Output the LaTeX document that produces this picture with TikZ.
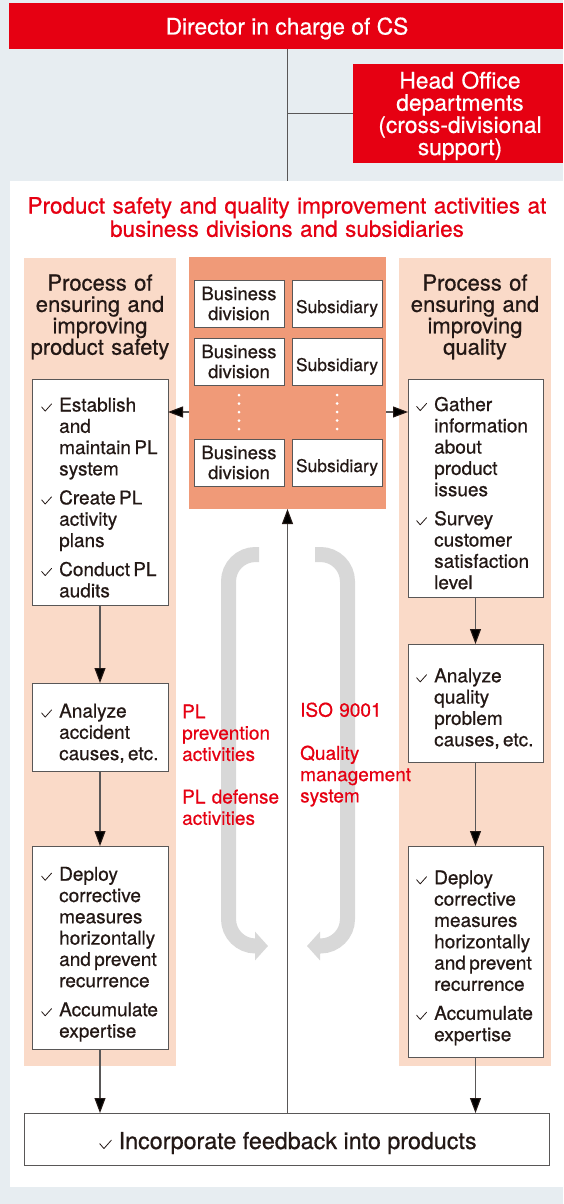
\documentclass[tikz,border=0pt]{standalone}
\usepackage{fontspec}
\setmainfont[FakeBold=0.6]{TeX Gyre Heros}
\usetikzlibrary{arrows.meta}
\definecolor{bgc}{RGB}{231,237,241}
\definecolor{redc}{RGB}{230,0,18}
\definecolor{pinkc}{RGB}{250,218,200}
\definecolor{orc}{RGB}{240,154,120}
\definecolor{grayarr}{RGB}{216,216,216}
\definecolor{txt}{RGB}{35,24,21}
\definecolor{lnc}{RGB}{89,87,87}
\newcommand{\ck}[1][1]{\tikz[baseline=0pt,scale=#1]\draw[line width=0.8pt,txt,line cap=round,line join=round] (0pt,4.6pt)--(3.6pt,0.4pt)--(10pt,7.6pt);}
\newcommand{\itm}[1]{\noindent\hangindent=27pt\hangafter=1\makebox[27pt][l]{\hspace{9pt}\ck}#1\par}
\newcommand{\bodyf}{\fontsize{19}{21.3}\selectfont\setlength{\parskip}{7.7pt}}
\tikzset{
  rect/.style={anchor=north west, inner sep=0pt, outer sep=0pt},
  redbar/.style={rect, fill=redc},
  panelbox/.style={rect, fill=pinkc},
  wbox/.style={rect, draw=lnc, line width=0.9pt, fill=white},
  unit/.style={rect, draw=lnc, line width=0.9pt, fill=white, minimum width=90pt, minimum height=47pt, text=txt},
  itemtext/.style={anchor=base west, inner sep=0pt, text width=#1, align=left, text=txt},
  ln/.style={draw=lnc, line width=1.1pt},
  arr/.style={ln, -{Triangle[length=15pt,width=11pt,color=txt]}},
  loop/.style={draw=grayarr, line width=15pt, rounded corners=27pt, -{Triangle[length=13pt,width=28pt]}},
  redlbl/.style={anchor=base west, inner sep=0pt, text width=#1, align=left, text=redc, font=\fontsize{19}{21.3}\selectfont},
}
\begin{document}
\begin{tikzpicture}[x=1pt,y=-1pt]
\useasboundingbox (0,0) rectangle (563,1204);
\fill[bgc] (0,0) rectangle (563,1204);

% top
\node[redbar, minimum width=554pt, minimum height=46pt] (dir) at (9,3) {};
\node[anchor=base, inner sep=0pt, text=white, font=\fontsize{22.8}{22.4}\selectfont] (dirt) at (287,34.5) {Director in charge of CS};
\node[redbar, minimum width=210pt, minimum height=99pt] (hq) at (353,64) {};
\node[anchor=base, inner sep=0pt, text=white, text width=205pt, align=center, font=\fontsize{22.8}{22.2}\selectfont] (hqt) at (460,88.5) {Head Office\\departments\\(cross-divisional\\support)};

% panel
\node[rect, fill=white, minimum width=553pt, minimum height=1006pt] (panel) at (10,181) {};
\node[anchor=base, inner sep=0pt, text=redc, text width=545pt, align=center, font=\fontsize{22.5}{23.3}\selectfont] (ttl) at (287,213.5) {Product safety and quality improvement activities at\\business divisions and subsidiaries};

\node[panelbox, minimum width=152pt, minimum height=808pt] (lp) at (24,258) {};
\node[panelbox, minimum width=152pt, minimum height=808pt] (rp) at (399,258) {};
\node[rect, fill=orc, minimum width=197pt, minimum height=252pt] (blk) at (189,257) {};

\node[anchor=base, inner sep=0pt, text=txt, text width=152pt, align=center, font=\fontsize{22}{21.4}\selectfont] (lh) at (100,290.5) {Process of\\ensuring and\\improving\\product safety};
\node[anchor=base, inner sep=0pt, text=txt, text width=152pt, align=center, font=\fontsize{22}{21.4}\selectfont] (rh) at (475,290.5) {Process of\\ensuring and\\improving\\quality};

% business divisions and subsidiaries
\node[unit, text width=90pt, align=center, font=\fontsize{18.5}{20}\selectfont] (bd1) at (194,280) {Business\\division};
\node[unit, text width=90pt, align=center, font=\fontsize{18.5}{20}\selectfont] (bd2) at (194,338) {Business\\division};
\node[unit, text width=90pt, align=center, font=\fontsize{18.5}{20}\selectfont] (bd3) at (194,439) {Business\\division};
\node[unit, text height=19pt, text depth=0pt, font=\fontsize{17.5}{20}\selectfont] (sb1) at (292,280) {Subsidiary};
\node[unit, text height=19pt, text depth=0pt, font=\fontsize{17.5}{20}\selectfont] (sb2) at (292,338) {Subsidiary};
\node[unit, text height=19pt, text depth=0pt, font=\fontsize{17.5}{20}\selectfont] (sb3) at (292,439) {Subsidiary};
\draw[white, line width=3pt, line cap=round, dash pattern=on 0pt off 8.5pt] (bd2.south) ++(0,10) -- ++(0,35);
\draw[white, line width=3pt, line cap=round, dash pattern=on 0pt off 8.5pt] (sb2.south) ++(0,10) -- ++(0,35);

% left column
\node[wbox, minimum width=136pt, minimum height=226pt] (b1) at (32,379) {};
\node[wbox, minimum width=136pt, minimum height=88pt] (b2) at (32,683) {};
\node[wbox, minimum width=136pt, minimum height=203pt] (b3) at (32,846) {};
\node[itemtext=136pt] (b1t) at (32,411.5) {\bodyf\itm{Establish\newline and\newline maintain PL\newline system}\itm{Create PL\newline activity\newline plans}\itm{Conduct PL\newline audits}};
\node[itemtext=136pt] (b2t) at (32,717.5) {\bodyf\itm{Analyze\newline accident\newline causes, etc.}};
\node[itemtext=136pt] (b3t) at (32,880.7) {\bodyf\itm{Deploy\newline corrective\newline measures\newline horizontally\newline and prevent\newline recurrence}\itm{Accumulate\newline expertise}};

% right column
\node[wbox, minimum width=135pt, minimum height=218pt] (r1) at (408,379) {};
\node[wbox, minimum width=135pt, minimum height=118pt] (r2) at (408,644) {};
\node[wbox, minimum width=135pt, minimum height=211pt] (r3) at (408,846) {};
\node[itemtext=135pt] (r1t) at (407,411) {\bodyf\itm{Gather\newline information\newline about\newline product\newline issues}\itm{Survey\newline customer\newline satisfaction\newline level}};
\node[itemtext=135pt] (r2t) at (407,682.3) {\bodyf\itm{Analyze\newline quality\newline problem\newline causes, etc.}};
\node[itemtext=135pt] (r3t) at (407,884.3) {\bodyf\itm{Deploy\newline corrective\newline measures\newline horizontally\newline and prevent\newline recurrence}\itm{Accumulate\newline expertise}};

% bottom
\node[wbox, minimum width=525pt, minimum height=52pt] (bot) at (24,1113) {};
\node[anchor=base, inner sep=0pt, text=txt, font=\fontsize{23.3}{25}\selectfont] (bott) at (288,1149) {\ck[1.15]\hspace{7pt}Incorporate feedback into products};

% grey loops
\draw[loop] (259,554.5) -- (228.5,554.5) -- (228.5,946) -- (268,946);
\draw[loop] (315,554.5) -- (347.5,554.5) -- (347.5,946) -- (307,946);

% red labels
\node[redlbl=110pt] (pl) at (182,718.3) {PL\\prevention\\activities\\[21.3pt]PL defense\\activities};
\node[redlbl=120pt] (iso) at (300,716.7) {ISO 9001\\[21.8pt]Quality\\management\\system};

% connectors
\coordinate (armY) at (0,412);
\draw[ln] (dir.south -| blk.north) -- (panel.north -| blk.north);
\draw[ln] (hq.west) -- (hq.west -| blk.north);
\draw[arr] (blk.west |- armY) -- (b1.east |- armY);
\draw[arr] (blk.east |- armY) -- (r1.west |- armY);
\draw[arr] (b1.south) -- (b2.north);
\draw[arr] (b2.south) -- (b3.north);
\draw[arr] (b3.south) -- (b3.south |- bot.north);
\draw[arr] (r1.south) -- (r2.north);
\draw[arr] (r2.south) -- (r3.north);
\draw[arr] (r3.south) -- (r3.south |- bot.north);
\draw[arr] (bot.north -| blk.south) -- (blk.south);
\end{tikzpicture}
\end{document}
